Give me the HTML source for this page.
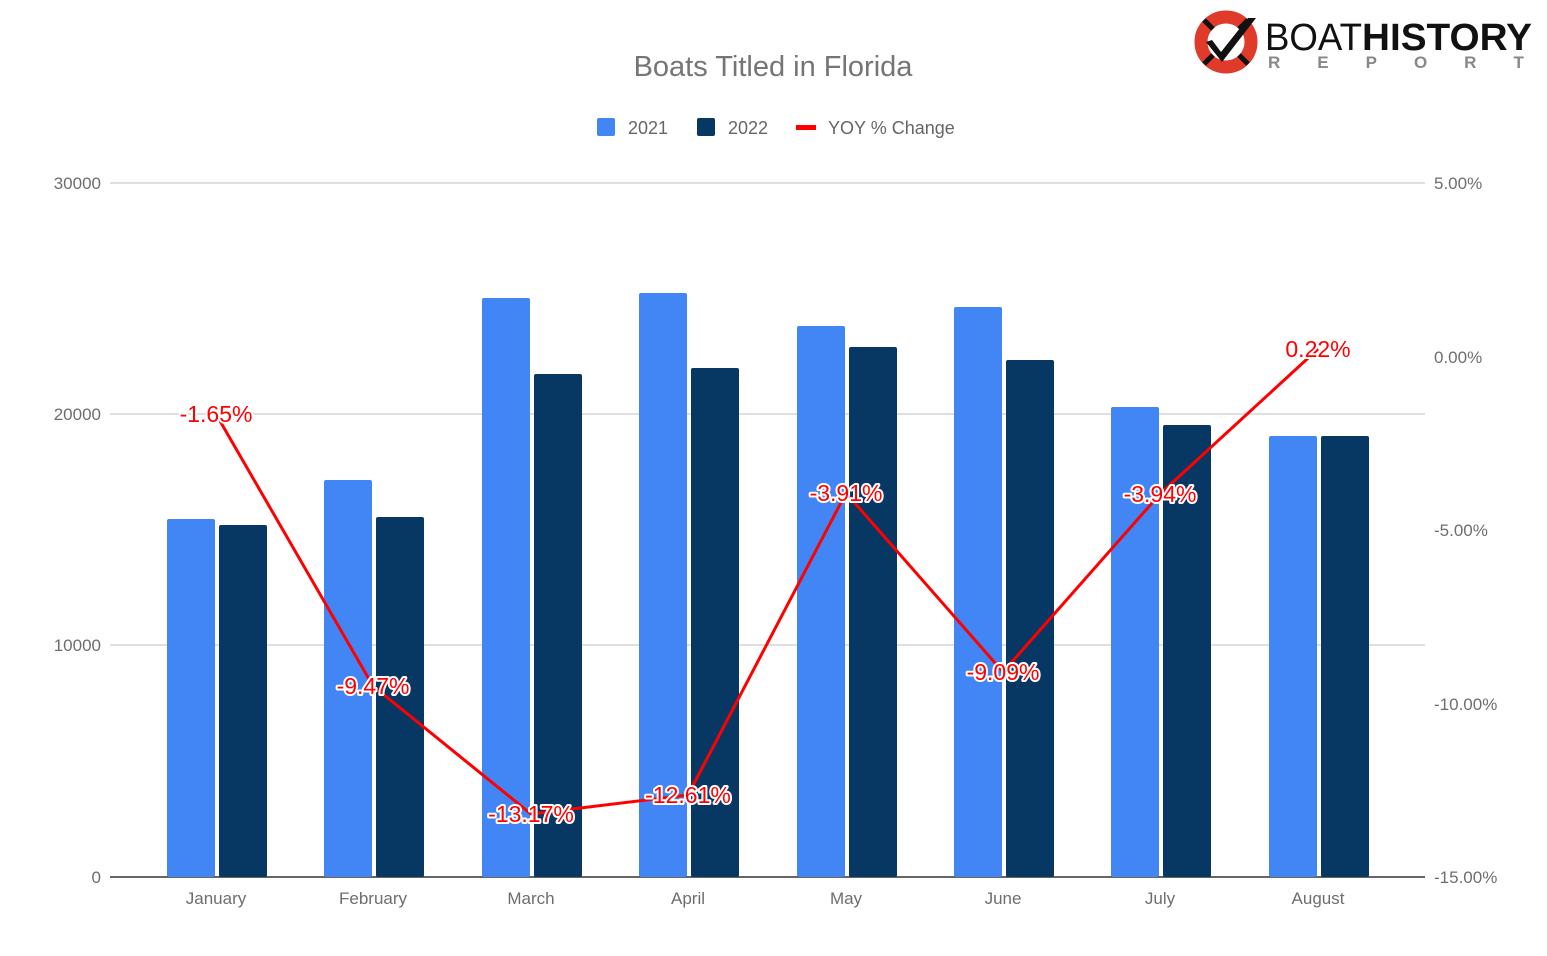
<!DOCTYPE html>
<html><head><meta charset="utf-8"><style>
html,body{margin:0;padding:0;background:#fff;}
svg{display:block;font-family:"Liberation Sans",Roboto,sans-serif;}
.ax{font-size:17px;fill:#6e6e6e;}
.lab{font-size:23px;fill:#f00;stroke:#fff;stroke-width:4px;paint-order:stroke;stroke-linejoin:round;text-anchor:middle;}
</style></head><body>
<svg width="1547" height="956" viewBox="0 0 1547 956">
<rect width="1547" height="956" fill="#fff"/>
<text x="773" y="76" text-anchor="middle" font-size="29" fill="#757575">Boats Titled in Florida</text>
<rect x="597" y="118" width="18" height="18" rx="2" fill="#4285f4"/>
<text x="628" y="134" font-size="18" fill="#666">2021</text>
<rect x="697" y="118" width="18" height="18" rx="2" fill="#073763"/>
<text x="728" y="134" font-size="18" fill="#666">2022</text>
<rect x="796" y="125" width="20" height="5" fill="#f00"/>
<text x="828" y="134" font-size="18" fill="#666">YOY % Change</text>
<g stroke="#ccc" stroke-width="1.3">
<line x1="110" y1="183" x2="1425" y2="183"/>
<line x1="110" y1="414" x2="1425" y2="414"/>
<line x1="110" y1="645" x2="1425" y2="645"/>
</g>
<line x1="110" y1="877" x2="1425" y2="877" stroke="#333" stroke-width="1.5"/>
<g class="ax" text-anchor="end">
<text x="101" y="189">30000</text><text x="101" y="420">20000</text><text x="101" y="651">10000</text><text x="101" y="883">0</text>
</g>
<g class="ax" text-anchor="start">
<text x="1434" y="189">5.00%</text><text x="1434" y="363">0.00%</text><text x="1434" y="536">-5.00%</text><text x="1434" y="710">-10.00%</text><text x="1434" y="883">-15.00%</text>
</g>
<g class="ax" text-anchor="middle">
<text x="216" y="904">January</text><text x="373" y="904">February</text><text x="531" y="904">March</text><text x="688" y="904">April</text><text x="846" y="904">May</text><text x="1003" y="904">June</text><text x="1160" y="904">July</text><text x="1318" y="904">August</text>
</g>
<g fill="#4285f4">
<rect x="167" y="519" width="48" height="358" rx="2"/>
<rect x="324" y="480" width="48" height="397" rx="2"/>
<rect x="482" y="298" width="48" height="579" rx="2"/>
<rect x="639" y="293" width="48" height="584" rx="2"/>
<rect x="797" y="326" width="48" height="551" rx="2"/>
<rect x="954" y="307" width="48" height="570" rx="2"/>
<rect x="1111" y="407" width="48" height="470" rx="2"/>
<rect x="1269" y="436" width="48" height="441" rx="2"/>
</g>
<g fill="#073763">
<rect x="219" y="525" width="48" height="352" rx="2"/>
<rect x="376" y="517" width="48" height="360" rx="2"/>
<rect x="534" y="374" width="48" height="503" rx="2"/>
<rect x="691" y="368" width="48" height="509" rx="2"/>
<rect x="849" y="347" width="48" height="530" rx="2"/>
<rect x="1006" y="360" width="48" height="517" rx="2"/>
<rect x="1163" y="425" width="48" height="452" rx="2"/>
<rect x="1321" y="436" width="48" height="441" rx="2"/>
</g>
<polyline fill="none" stroke="#f00" stroke-width="3" stroke-linejoin="round"
points="220,421 373,686 531,814 688,795 846,493 1003,672 1160,494 1318,349"/>
<g class="lab">
<text x="216" y="422">-1.65%</text>
<text x="373" y="694">-9.47%</text>
<text x="531" y="822">-13.17%</text>
<text x="688" y="803">-12.61%</text>
<text x="846" y="501">-3.91%</text>
<text x="1003" y="680">-9.09%</text>
<text x="1160" y="502">-3.94%</text>
<text x="1318" y="357">0.22%</text>
</g>
<g transform="translate(1226,42)">
<circle r="25" fill="none" stroke="#e03a2b" stroke-width="13"/>
<g stroke="#111" stroke-width="5">
<line x1="-22" y1="-22" x2="-13" y2="-13"/><line x1="22" y1="22" x2="13" y2="13"/>
<line x1="-22" y1="22" x2="-13" y2="13"/><line x1="22" y1="-22" x2="13" y2="-13"/>
</g>
<path d="M-14,-2 L-5,10 L22,-24 L30,-24 L-4,20 L-20,0 Z" fill="#111"/>
</g>
<text x="1265" y="50" font-size="38" fill="#111" textLength="97" lengthAdjust="spacingAndGlyphs">BOAT</text>
<text x="1362" y="50" font-size="38" font-weight="bold" fill="#111" textLength="170" lengthAdjust="spacingAndGlyphs">HISTORY</text>
<text x="1268" y="68" font-size="17" font-weight="bold" fill="#888" letter-spacing="37">REPORT</text>
</svg>
</body></html>
